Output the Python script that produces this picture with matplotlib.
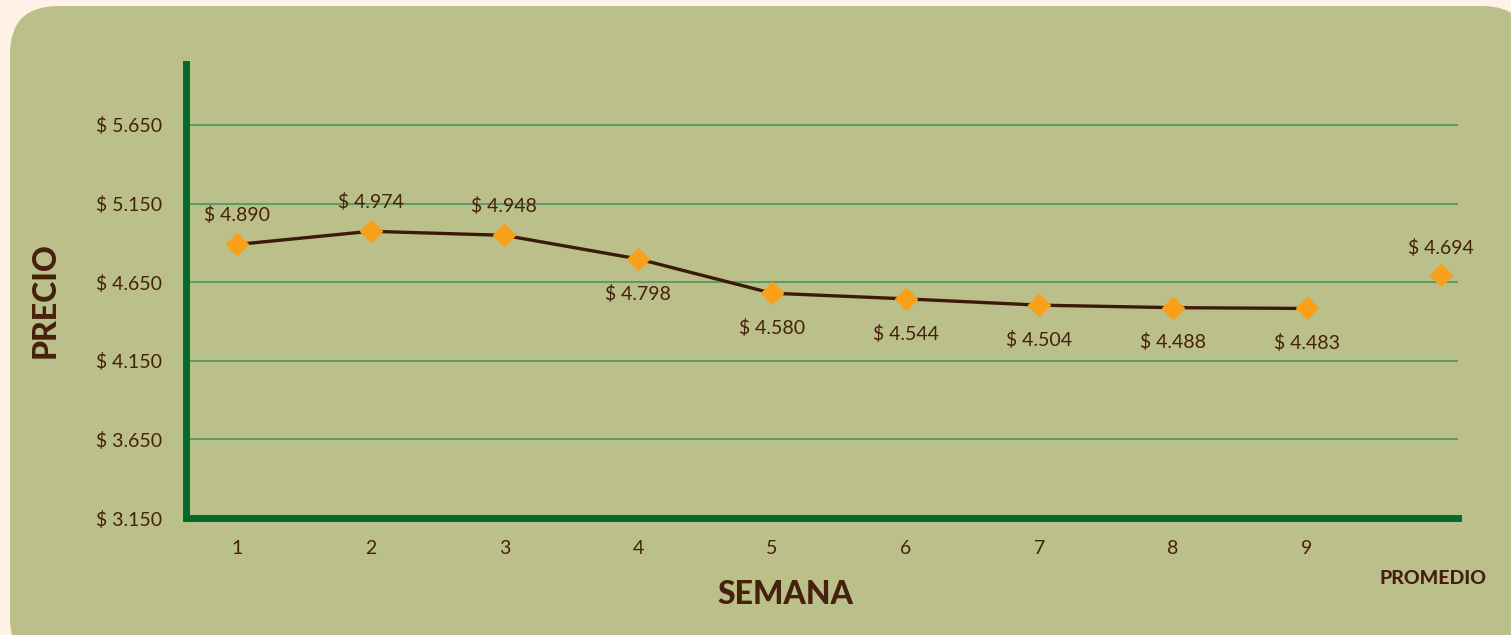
import matplotlib.pyplot as plt
from matplotlib.patches import FancyBboxPatch

semanas = ['1', '2', '3', '4', '5', '6', '7', '8', '9']
precios = [4890, 4974, 4948, 4798, 4580, 4544, 4504, 4488, 4483]
promedio = 4694
yticks = [3150, 3650, 4150, 4650, 5150, 5650]

brown = '#46200c'
green = '#006b2d'
grid_green = '#5f9c64'
orange = '#f8a01a'

plt.rcParams['font.family'] = ['Lato', 'DejaVu Sans']

W, H = 1511, 635
fig = plt.figure(figsize=(W / 100, H / 100), dpi=100)
fig.patch.set_facecolor('#fdf2e5')

# panel de fondo redondeado (en pixeles)
bg = fig.add_axes([0, 0, 1, 1], zorder=-1)
bg.set_xlim(0, W)
bg.set_ylim(H, 0)
bg.axis('off')
bg.add_patch(FancyBboxPatch((10, 6), 1520, 660,
                            boxstyle='round,pad=0,rounding_size=48',
                            facecolor='#bbc08b', edgecolor='none'))

ax = fig.add_axes([186 / W, 1 - 518 / H, (1458 - 186) / W, (518 - 64) / H])
ax.set_facecolor('none')

x = list(range(1, len(precios) + 1))
ax.plot(x, precios, color='#3d1a08', lw=2.4, zorder=3)
ax.plot(x, precios, ls='none', marker='D', ms=11.5, color=orange, zorder=4)
ax.plot([len(precios) + 1], [promedio], ls='none', marker='D', ms=11.5, color=orange, zorder=4)

def fmt(v):
    return '$ ' + f'{v:,}'.replace(',', '.')

for i, v in enumerate(precios):
    dy = 21 if i < 3 else -25
    ax.annotate(fmt(v), (x[i], v), xytext=(0, dy), textcoords='offset points',
                ha='center', va='center', fontsize=14, color=brown)
ax.annotate(fmt(promedio), (len(precios) + 1, promedio), xytext=(0, 20),
            textcoords='offset points', ha='center', va='center', fontsize=14, color=brown)

ax.set_xlim(0.619, 10.13)
ax.set_ylim(3150, 6038)
ax.set_xticks(x)
ax.set_xticklabels(semanas)
ax.set_yticks(yticks)
ax.set_yticklabels([fmt(v) for v in yticks])
for lab in ax.get_yticklabels():
    lab.set_ha('left')

ax.tick_params(axis='both', length=0, labelsize=14, labelcolor=brown)
ax.tick_params(axis='y', pad=65)
ax.tick_params(axis='x', pad=16)

ax.grid(axis='y', color=grid_green, lw=1.5)
ax.set_axisbelow(True)
for s in ['top', 'right']:
    ax.spines[s].set_visible(False)
for s in ['left', 'bottom']:
    ax.spines[s].set_color(green)
    ax.spines[s].set_linewidth(5)
    ax.spines[s].set_zorder(5)

fig.text(785 / W, 1 - 595 / H, 'SEMANA', ha='center', va='center',
         fontsize=23, fontweight='black', color=brown)
fig.text(45 / W, 1 - 300 / H, 'PRECIO', ha='center', va='center', rotation=90,
         fontsize=23, fontweight='black', color=brown)
fig.text(1433 / W, 1 - 579 / H, 'PROMEDIO', ha='center', va='center',
         fontsize=14, fontweight='black', color=brown)

fig.savefig('out.png', dpi=100, facecolor=fig.get_facecolor())
